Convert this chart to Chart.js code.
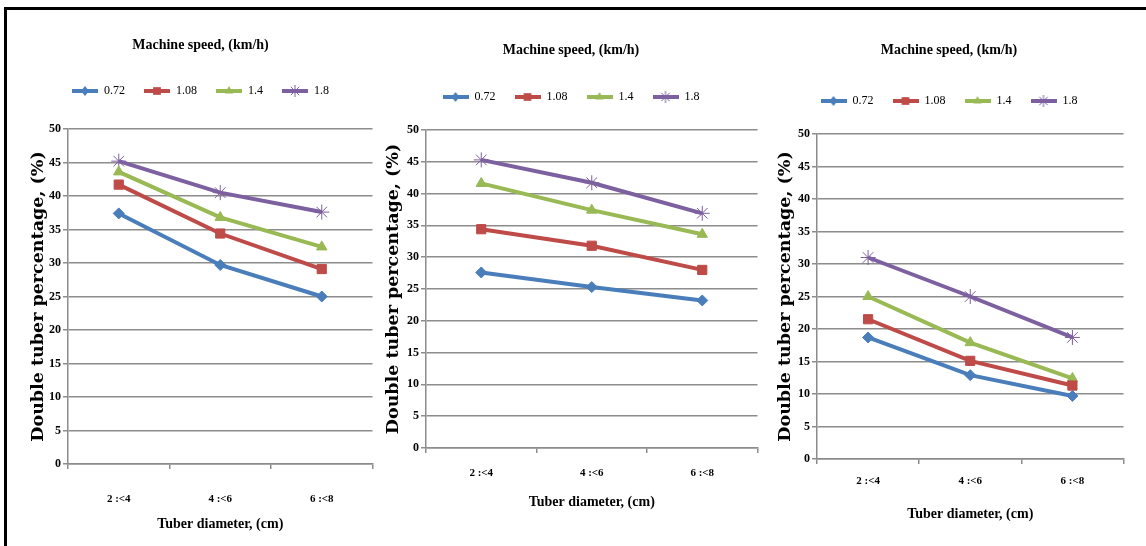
<!DOCTYPE html>
<html>
<head>
<meta charset="utf-8">
<script src="https://cdn.jsdelivr.net/npm/chart.js@4.4.0/dist/chart.umd.min.js"></script>
<style>
html,body{margin:0;padding:0;background:#fff;width:1146px;height:546px;overflow:hidden;}
#frame{position:absolute;left:4px;top:7px;width:1142px;height:539px;border-top:3px solid #000;border-left:3px solid #000;}
.panel{position:absolute;top:0;height:546px;}
</style>
</head>
<body>
<div id="frame"></div>
<div class="panel" id="p1"><canvas id="c1"></canvas></div>
<div class="panel" id="p2"><canvas id="c2"></canvas></div>
<div class="panel" id="p3"><canvas id="c3"></canvas></div>
<script>
// data
const categories = ['2 :<4', '4 :<6', '6 :<8'];
const speeds = ['0.72', '1.08', '1.4', '1.8'];
const yTicks = [0, 5, 10, 15, 20, 25, 30, 35, 40, 45, 50];

// left chart
const a072 = [37.4, 29.7, 25.0];
const a108 = [41.7, 34.4, 29.1];
const a14  = [43.6, 36.8, 32.4];
const a18  = [45.2, 40.5, 37.6];
// middle chart
const b072 = [27.6, 25.3, 23.2];
const b108 = [34.4, 31.8, 28.0];
const b14  = [41.6, 37.4, 33.6];
const b18  = [45.3, 41.7, 36.9];
// right chart
const c072 = [18.7, 12.9, 9.7];
const c108 = [21.5, 15.1, 11.3];
const c14  = [25.0, 17.9, 12.4];
const c18  = [31.0, 25.0, 18.7];

const colors = ['#4A7EBB', '#BE4B48', '#98B954', '#7D60A0'];
const markers = ['rectRot', 'rect', 'triangle', 'star'];
const radii = [5.5, 6.5, 6, 7.5];

// little line+marker pictures for the legend
function drawMarker(ctx, style, x, y, r, col) {
  ctx.fillStyle = col; ctx.strokeStyle = col; ctx.lineWidth = 1;
  ctx.beginPath();
  if (style == 'rectRot') {
    ctx.moveTo(x, y - r); ctx.lineTo(x + r * 0.8, y); ctx.lineTo(x, y + r); ctx.lineTo(x - r * 0.8, y); ctx.closePath(); ctx.fill();
  } else if (style == 'rect') {
    ctx.rect(x - r * 0.7, y - r * 0.7, r * 1.4, r * 1.4); ctx.fill();
  } else if (style == 'triangle') {
    ctx.moveTo(x, y - r); ctx.lineTo(x + r * 0.85, y + r * 0.5); ctx.lineTo(x - r * 0.85, y + r * 0.5); ctx.closePath(); ctx.fill();
  } else {
    ctx.moveTo(x - r * 0.7, y - r * 0.7); ctx.lineTo(x + r * 0.7, y + r * 0.7);
    ctx.moveTo(x + r * 0.7, y - r * 0.7); ctx.lineTo(x - r * 0.7, y + r * 0.7);
    ctx.moveTo(x, y - r); ctx.lineTo(x, y + r);
    ctx.stroke();
  }
}
function legendIcon(i) {
  const cv = document.createElement('canvas');
  cv.width = 26; cv.height = 14;
  const ctx = cv.getContext('2d');
  ctx.strokeStyle = colors[i]; ctx.lineWidth = 4;
  ctx.beginPath(); ctx.moveTo(0, 7); ctx.lineTo(26, 7); ctx.stroke();
  drawMarker(ctx, markers[i], 13, 7, [5, 5.5, 5, 6][i], colors[i]);
  return cv;
}
const icons = speeds.map((s, i) => legendIcon(i));

const serif = 'Liberation Serif';
const legPad = 19;

function makeChart(id, panelId, series, lay) {
  const box = document.getElementById(panelId);
  box.style.left = lay.left + 'px';
  box.style.width = lay.width + 'px';
  const datasets = series.map((vals, i) => ({
    label: speeds[i],
    data: vals,
    borderColor: colors[i],
    backgroundColor: colors[i],
    borderWidth: 4,
    pointStyle: markers[i],
    pointRadius: radii[i],
    pointBorderWidth: 1,
    pointBackgroundColor: colors[i],
    pointBorderColor: colors[i],
    tension: 0
  }));
  return new Chart(document.getElementById(id), {
    type: 'line',
    data: { labels: categories, datasets: datasets },
    options: {
      responsive: true,
      maintainAspectRatio: false,
      animation: false,
      layout: { padding: { left: 0, right: lay.padRight, top: 0, bottom: 0 } },
      plugins: {
        title: {
          display: true,
          text: 'Machine speed, (km/h)',
          color: '#000',
          font: { family: serif, size: 14, weight: 'bold' },
          padding: { top: lay.titleY - 8.4, bottom: lay.legendY - legPad - 6 - lay.titleY - 8.4 }
        },
        legend: {
          display: true,
          labels: {
            usePointStyle: true,
            pointStyleWidth: 26,
            padding: legPad,
            color: '#000',
            font: { family: serif, size: 12 },
            generateLabels: (chart) => speeds.map((s, i) => ({
              text: s, pointStyle: icons[i], fillStyle: colors[i], strokeStyle: colors[i],
              lineWidth: 0, hidden: false, datasetIndex: i
            }))
          }
        },
        // empty spacer between legend and plot
        subtitle: {
          display: true, text: '', weight: 500,
          font: { size: 10 },
          padding: { top: 0, bottom: lay.top - lay.legendY - 16 - 12 }
        },
        tooltip: { enabled: false }
      },
      scales: {
        x: {
          type: 'category',
          offset: true,
          grid: { display: true, drawOnChartArea: false, offset: true, tickLength: 5, color: '#8c8c8c', lineWidth: 1.5 },
          border: { color: '#8c8c8c', width: 1.5 },
          ticks: { color: '#000', font: { family: serif, size: 11, weight: 'bold' }, padding: lay.tickPad, maxRotation: 0 },
          title: {
            display: true, text: 'Tuber diameter, (cm)', color: '#000',
            font: { family: serif, size: 14, weight: 'bold' },
            padding: { top: 0, bottom: lay.xTitlePad }
          },
          afterFit: (s) => { s.height = 546 - lay.bottom; }
        },
        y: {
          min: 0, max: 50,
          afterBuildTicks: (s) => { s.ticks = yTicks.map(v => ({ value: v })); },
          grid: { color: '#8c8c8c', lineWidth: 1.5, tickLength: 5 },
          border: { color: '#8c8c8c', width: 1.5 },
          ticks: { color: '#000', font: { family: serif, size: 12, weight: 'bold' }, padding: 2 },
          title: {
            display: true, text: 'Double tuber percentage, (%)', color: '#000',
            font: { family: 'DejaVu Serif', size: 17.5, weight: 'bold' },
            padding: { top: 1, bottom: 0 }
          },
          afterFit: (s) => { s.width = lay.yW; }
        }
      }
    }
  });
}

makeChart('c1', 'p1', [a072, a108, a14, a18],
  { left: 27, width: 354, yW: 41, padRight: 7, titleY: 45, legendY: 91, top: 129, bottom: 464, tickPad: 24, xTitlePad: 13 });
makeChart('c2', 'p2', [b072, b108, b14, b18],
  { left: 382, width: 384, yW: 44, padRight: 6, titleY: 50, legendY: 97, top: 130, bottom: 448, tickPad: 14, xTitlePad: 35 });
makeChart('c3', 'p3', [c072, c108, c14, c18],
  { left: 774, width: 358, yW: 43, padRight: 8, titleY: 50, legendY: 101, top: 134, bottom: 459, tickPad: 11, xTitlePad: 23 });
</script>
</body>
</html>
